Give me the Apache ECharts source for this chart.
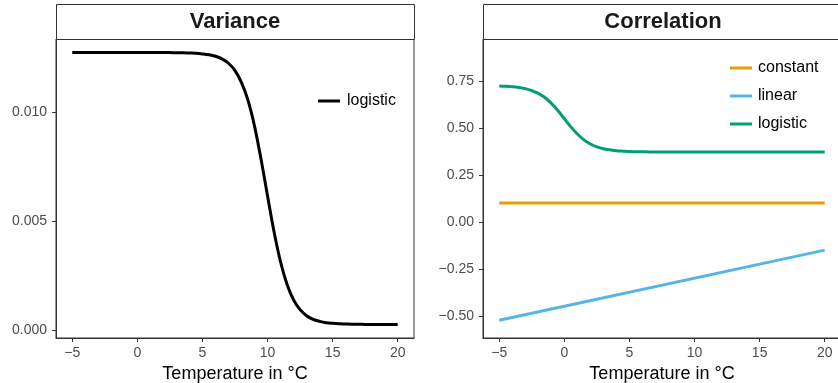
<!DOCTYPE html>
<html><head><meta charset="utf-8">
<script src="https://cdn.jsdelivr.net/npm/echarts@6/dist/echarts.min.js"></script>
<style>html,body{margin:0;padding:0;background:#fff}#c{width:838px;height:383px}</style>
</head><body><div id="c"></div>
<script>
// ---- data ----
const xTicks = [-5, 0, 5, 10, 15, 20];
const varTicks = [0.000, 0.005, 0.010];
const corTicks = [-0.50, -0.25, 0.00, 0.25, 0.50, 0.75];

const varX = [-5, -4.5, -4, -3.5, -3, -2.5, -2, -1.5, -1, -0.5, 0, 0.5, 1, 1.5, 2, 2.5, 3, 3.5, 4, 4.5, 5, 5.5, 6, 6.5, 7, 7.5, 8, 8.5, 9, 9.5, 10, 10.5, 11, 11.5, 12, 12.5, 13, 13.5, 14, 14.5, 15, 15.5, 16, 16.5, 17, 17.5, 18, 18.5, 19, 19.5, 20];
const varLogistic = [0.01275, 0.01275, 0.01275, 0.01275, 0.01275, 0.01275, 0.01275, 0.01275, 0.01275, 0.01275, 0.01275, 0.01275, 0.01275, 0.01275, 0.01275, 0.01275, 0.01274, 0.01274, 0.01273, 0.01272, 0.01269, 0.01265, 0.01258, 0.01246, 0.01226, 0.01192, 0.01137, 0.01055, 0.00937, 0.00785, 0.00616, 0.00451, 0.00312, 0.00209, 0.00138, 0.00093, 0.00065, 0.00048, 0.00039, 0.00033, 0.00030, 0.00028, 0.00027, 0.00026, 0.00026, 0.00025, 0.00025, 0.00025, 0.00025, 0.00025, 0.00025];

const corX2 = [-5, 20];
const corConstant = [0.10, 0.10];
const corLinear = [-0.523, -0.150];
const corLogX = [-5, -4.5, -4, -3.5, -3, -2.5, -2, -1.5, -1, -0.5, 0, 0.5, 1, 1.5, 2, 2.5, 3, 3.5, 4, 4.5, 5, 5.5, 6, 6.5, 7, 7.5, 8, 9, 10, 11, 12, 13, 14, 15, 16, 17, 18, 19, 20];
const corLogistic = [0.7226, 0.7212, 0.7187, 0.7146, 0.7084, 0.698, 0.683, 0.661, 0.630, 0.592, 0.548, 0.505, 0.467, 0.436, 0.414, 0.399, 0.389, 0.383, 0.378, 0.376, 0.374, 0.373, 0.373, 0.372, 0.372, 0.372, 0.372, 0.372, 0.372, 0.372, 0.372, 0.372, 0.372, 0.372, 0.372, 0.372, 0.372, 0.372, 0.372];

const zip = (xs, ys) => xs.map((x, i) => [x, ys[i]]);
const minus = s => String(s).replace('-', '\u2212');
const FONT = 'Liberation Sans, Arial, sans-serif';
const TXT = '#333333';

const chart = echarts.init(document.getElementById('c'), null, {renderer: 'canvas'});

function xAxis(grid) {
  return {
    type: 'value', gridIndex: grid, min: -6.25, max: 21.25, position: 'bottom',
    splitLine: {show: false},
    axisLine: {show: true, onZero: false, lineStyle: {color: TXT, width: 1}},
    axisTick: {show: true, length: 4, customValues: xTicks, lineStyle: {color: TXT}},
    axisLabel: {customValues: xTicks, color: '#4d4d4d', fontSize: 14, fontFamily: FONT, margin: 8, formatter: v => minus(v)},
    name: 'Temperature in \u00B0C', nameLocation: 'middle', nameGap: 25,
    nameTextStyle: {color: '#000', fontSize: 18, fontFamily: FONT}
  };
}
function yAxis(grid, min, max, ticks, dec) {
  return {
    type: 'value', gridIndex: grid, min: min, max: max, position: 'left', splitLine: {show: false},
    axisLine: {show: true, onZero: false, lineStyle: {color: TXT}},
    axisTick: {show: true, length: 4, customValues: ticks, lineStyle: {color: TXT}},
    axisLabel: {customValues: ticks, color: '#4d4d4d', fontSize: 14, fontFamily: FONT, margin: 9, formatter: v => minus(v.toFixed(dec))}
  };
}

const option = {
  animation: false,
  backgroundColor: '#fff',
  grid: [
    {left: 56, top: 39, width: 358, height: 299, outerBoundsMode: 'none', containLabel: false, show: true, borderColor: TXT, borderWidth: 1, backgroundColor: 'transparent'},
    {left: 483, top: 39, width: 358, height: 299, outerBoundsMode: 'none', containLabel: false, show: true, borderColor: TXT, borderWidth: 1, backgroundColor: 'transparent'}
  ],
  xAxis: [xAxis(0), xAxis(1)],
  yAxis: [yAxis(0, -0.000375, 0.013375, varTicks, 3), yAxis(1, -0.617, 0.972, corTicks, 2)],
  legend: [
    {data: [{name: 'logistic '}], left: 313, top: 87, icon: 'rect', itemWidth: 22, itemHeight: 3,
     textStyle: {fontSize: 16, fontFamily: FONT, color: '#000', lineHeight: 18, padding: [0, 0, 0, 2]}},
    {data: ['constant', 'linear', 'logistic'], left: 725, top: 54, orient: 'vertical', icon: 'rect',
     itemWidth: 22, itemHeight: 3, itemGap: 10,
     textStyle: {fontSize: 16, fontFamily: FONT, color: '#000', lineHeight: 18, padding: [0, 0, 0, 1]}}
  ],
  graphic: [
    {type: 'rect', shape: {x: 56.5, y: 4.5, width: 358, height: 35}, style: {fill: '#fff', stroke: TXT, lineWidth: 1}, z: 10},
    {type: 'text', x: 235, y: 22, style: {text: 'Variance', font: 'bold 22px ' + FONT, fill: '#1a1a1a', textAlign: 'center', textVerticalAlign: 'middle'}, z: 11},
    {type: 'rect', shape: {x: 483.5, y: 4.5, width: 358, height: 35}, style: {fill: '#fff', stroke: TXT, lineWidth: 1}, z: 10},
    {type: 'text', x: 663, y: 22, style: {text: 'Correlation', font: 'bold 22px ' + FONT, fill: '#1a1a1a', textAlign: 'center', textVerticalAlign: 'middle'}, z: 11}
  ],
  series: [
    {name: 'logistic ', type: 'line', xAxisIndex: 0, yAxisIndex: 0, data: zip(varX, varLogistic), smooth: 0.3,
     showSymbol: false, lineStyle: {color: '#000', width: 3}, itemStyle: {color: '#000'}},
    {name: 'constant', type: 'line', xAxisIndex: 1, yAxisIndex: 1, data: zip(corX2, corConstant),
     showSymbol: false, lineStyle: {color: '#E69F00', width: 3}, itemStyle: {color: '#E69F00'}},
    {name: 'linear', type: 'line', xAxisIndex: 1, yAxisIndex: 1, data: zip(corX2, corLinear),
     showSymbol: false, lineStyle: {color: '#56B4E9', width: 3}, itemStyle: {color: '#56B4E9'}},
    {name: 'logistic', type: 'line', xAxisIndex: 1, yAxisIndex: 1, data: zip(corLogX, corLogistic), smooth: 0.3,
     showSymbol: false, lineStyle: {color: '#009E73', width: 3}, itemStyle: {color: '#009E73'}}
  ]
};
chart.setOption(option);
</script></body></html>
